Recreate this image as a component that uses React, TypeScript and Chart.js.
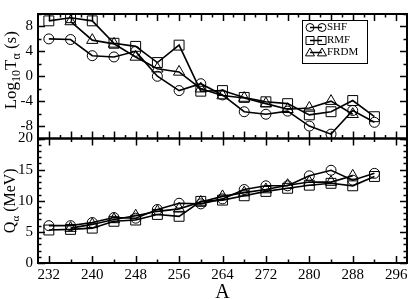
import React, { useEffect, useRef } from "react";
import { Chart, registerables } from "chart.js";

Chart.register(...registerables);

const massNumbers = [232, 236, 240, 244, 248, 252, 256, 260, 264, 268, 272, 276, 280, 284, 288, 292];

const shfLogT = [6.0, 5.9, 3.3, 3.1, 4.0, 0.0, -2.3, -1.2, -3.0, -5.7, -6.1, -5.6, -8.0, -9.3, -5.5, -7.4];
const rmfLogT = [8.9, 9.4, 8.9, 5.3, 4.8, 2.2, 5.0, -2.4, -2.3, -3.4, -4.1, -4.4, -6.2, -5.7, -3.9, -6.5];
const frdmLogT = [null, 8.8, 5.8, 5.2, 3.1, 1.2, 0.7, -2.0, -3.1, -3.5, -4.4, -5.3, -5.1, -4.0, -6.1, null];

const shfQ = [6.0, 6.0, 6.5, 7.3, 7.2, 8.6, 9.6, 9.5, 10.3, 11.8, 12.4, 12.4, 14.0, 14.9, 13.3, 14.4];
const rmfQ = [5.3, 5.4, 5.6, 6.7, 6.9, 7.8, 7.5, 9.9, 10.1, 10.8, 11.5, 12.0, 12.5, 12.8, 12.4, 13.9];
const frdmQ = [null, 5.6, 6.2, 7.0, 7.6, 8.3, 8.7, 9.8, 10.7, 11.3, 11.8, 12.5, 13.0, 13.0, 14.0, null];

const xTickLabels = [232, 240, 248, 256, 264, 272, 280, 288, 296];
const topYTickLabels = [-8, -4, 0, 4, 8];
const bottomYTickLabels = [0, 5, 10, 15, 20];

const seriesNames = ["SHF", "RMF", "FRDM"];
const seriesStyles = ["circle", "rect", "triangle"];

const SERIF = "'Liberation Serif', 'Times New Roman', serif";

function pts(arr: (number | null)[]) {
  return massNumbers
    .map((x, i) => ({ x, y: arr[i] }))
    .filter((p) => p.y !== null);
}

function range(a: number, b: number, s: number) {
  const r: number[] = [];
  for (let v = a; v <= b + 1e-9; v += s) r.push(v);
  return r;
}

function drawRich(ctx: CanvasRenderingContext2D, parts: { t: string; size: number; dy: number }[]) {
  let total = 0;
  const widths = parts.map((p) => {
    ctx.font = `${p.size}px ${SERIF}`;
    const w = ctx.measureText(p.t).width;
    total += w;
    return w;
  });
  let x = -total / 2;
  parts.forEach((p, i) => {
    ctx.font = `${p.size}px ${SERIF}`;
    ctx.fillText(p.t, x, p.dy);
    x += widths[i];
  });
}

function drawMarker(ctx: CanvasRenderingContext2D, style: string, x: number, y: number, r: number) {
  ctx.beginPath();
  if (style === "circle") {
    ctx.arc(x, y, r, 0, Math.PI * 2);
  } else if (style === "rect") {
    ctx.rect(x - r, y - r, 2 * r, 2 * r);
  } else {
    ctx.moveTo(x, y - r);
    ctx.lineTo(x + r, y + r * 0.75);
    ctx.lineTo(x - r, y + r * 0.75);
    ctx.closePath();
  }
  ctx.stroke();
}

const framePlugin = {
  id: "framePlugin",
  afterDraw(chart: any) {
    const ctx: CanvasRenderingContext2D = chart.ctx;
    const xs = chart.scales.x;
    const yT = chart.scales.yT;
    const yQ = chart.scales.yQ;
    const L = chart.chartArea.left;
    const R = chart.chartArea.right;
    ctx.save();
    ctx.strokeStyle = "#000";
    ctx.fillStyle = "#000";

    const panel = (ys: any, xMaj: number[], xMin: number[], yMaj: number[], yMin: number[]) => {
      const top = ys.top;
      const bot = ys.bottom;
      ctx.lineWidth = 1.5;
      ctx.beginPath();
      const tick = (px: number, py: number, dx: number, dy: number) => {
        ctx.moveTo(px, py);
        ctx.lineTo(px + dx, py + dy);
      };
      xMaj.forEach((v) => {
        const p = Math.round(xs.getPixelForValue(v)) + 0.5;
        tick(p, top, 0, 7);
        tick(p, bot, 0, -7);
      });
      xMin.forEach((v) => {
        const p = Math.round(xs.getPixelForValue(v)) + 0.5;
        tick(p, top, 0, 3.5);
        tick(p, bot, 0, -3.5);
      });
      yMaj.forEach((v) => {
        const p = Math.round(ys.getPixelForValue(v)) + 0.5;
        tick(L, p, 7, 0);
        tick(R, p, -7, 0);
      });
      yMin.forEach((v) => {
        const p = Math.round(ys.getPixelForValue(v)) + 0.5;
        tick(L, p, 3.5, 0);
        tick(R, p, -3.5, 0);
      });
      ctx.stroke();
      ctx.lineWidth = 2;
      ctx.strokeRect(L, top, R - L, bot - top);
    };

    panel(
      yT,
      range(232, 296, 4),
      range(234, 294, 4),
      range(-8, 8, 4),
      range(-10, 10, 2).filter((v) => v % 4 !== 0)
    );
    panel(
      yQ,
      range(232, 296, 8),
      range(236, 292, 8),
      range(0, 20, 5),
      range(0, 20, 1).filter((v) => v % 5 !== 0)
    );

    // axis titles
    ctx.textBaseline = "alphabetic";
    ctx.textAlign = "left";
    ctx.save();
    ctx.translate(16, (yT.top + yT.bottom) / 2 - 6);
    ctx.rotate(-Math.PI / 2);
    drawRich(ctx, [
      { t: "Log", size: 17, dy: 0 },
      { t: "10", size: 12, dy: 4 },
      { t: "T", size: 17, dy: 0 },
      { t: "α", size: 12, dy: 4 },
      { t: " (s)", size: 17, dy: 0 },
    ]);
    ctx.restore();

    ctx.save();
    ctx.translate(15, (yQ.top + yQ.bottom) / 2);
    ctx.rotate(-Math.PI / 2);
    drawRich(ctx, [
      { t: "Q", size: 16, dy: 0 },
      { t: "α", size: 11, dy: 4 },
      { t: " (MeV)", size: 16, dy: 0 },
    ]);
    ctx.restore();

    ctx.textAlign = "center";
    ctx.font = `20px ${SERIF}`;
    ctx.fillText("A", (L + R) / 2, 298);

    // legend
    const bx = 302, by = 20, bw = 65, bh = 43;
    ctx.fillStyle = "#fff";
    ctx.fillRect(bx, by, bw, bh);
    ctx.lineWidth = 1;
    ctx.strokeStyle = "#000";
    ctx.strokeRect(bx + 0.5, by + 0.5, bw, bh);
    ctx.fillStyle = "#000";
    const rows = [27, 40, 52];
    seriesNames.forEach((name, i) => {
      const yy = rows[i] + 0.5;
      ctx.lineWidth = 1.5;
      ctx.beginPath();
      ctx.moveTo(310, yy);
      ctx.lineTo(322, yy);
      ctx.stroke();
      ctx.lineWidth = 1;
      const style = seriesStyles[i];
      const r = style === "rect" ? 4 : style === "triangle" ? 4.5 : 4;
      [310, 322].forEach((px) => drawMarker(ctx, style, px, yy, r));
      ctx.textAlign = "left";
      ctx.textBaseline = "middle";
      ctx.font = `11px ${SERIF}`;
      ctx.fillText(name, 327, yy);
    });
    ctx.restore();
  },
};

function makeDataset(label: string, style: string, arr: (number | null)[], axis: string) {
  const r = style === "rect" ? 7 : style === "triangle" ? 6.5 : 5;
  return {
    label,
    data: pts(arr),
    yAxisID: axis,
    borderColor: "#000",
    borderWidth: 1.6,
    pointStyle: style,
    pointRadius: r,
    pointBorderColor: "#000",
    pointBackgroundColor: "rgba(0,0,0,0)",
    pointBorderWidth: 1,
    tension: 0,
    fill: false,
  };
}

export default function App() {
  const ref = useRef<HTMLCanvasElement | null>(null);
  useEffect(() => {
    if (!ref.current) return;
    const tickFont = { family: SERIF, size: 15 };
    const chart = new Chart(ref.current, {
      type: "line",
      data: {
        datasets: [
          makeDataset("SHF", seriesStyles[0], shfLogT, "yT"),
          makeDataset("RMF", seriesStyles[1], rmfLogT, "yT"),
          makeDataset("FRDM", seriesStyles[2], frdmLogT, "yT"),
          makeDataset("SHF Q", seriesStyles[0], shfQ, "yQ"),
          makeDataset("RMF Q", seriesStyles[1], rmfQ, "yQ"),
          makeDataset("FRDM Q", seriesStyles[2], frdmQ, "yQ"),
        ] as any,
      },
      options: {
        responsive: false,
        animation: false,
        layout: { padding: { top: 3, right: 3, left: 0, bottom: 0 } },
        plugins: { legend: { display: false }, tooltip: { enabled: false } },
        scales: {
          x: {
            type: "linear",
            min: 230,
            max: 298,
            afterBuildTicks: (s: any) => {
              s.ticks = xTickLabels.map((v) => ({ value: v }));
            },
            afterFit: (s: any) => {
              s.height = 36;
            },
            ticks: { font: tickFont, color: "#000", padding: 3, autoSkip: false, maxRotation: 0 },
            grid: { display: false, drawTicks: false },
            border: { display: false },
          },
          yQ: {
            type: "linear",
            position: "left",
            stack: "v",
            stackWeight: 1,
            min: 0,
            max: 20,
            afterBuildTicks: (s: any) => {
              s.ticks = bottomYTickLabels.map((v) => ({ value: v }));
            },
            afterFit: (s: any) => {
              s.width = 38;
            },
            ticks: { font: tickFont, color: "#000", padding: 5, autoSkip: false },
            grid: { display: false, drawTicks: false },
            border: { display: false },
          },
          yT: {
            type: "linear",
            position: "left",
            stack: "v",
            stackWeight: 1,
            min: -10,
            max: 10,
            afterBuildTicks: (s: any) => {
              s.ticks = topYTickLabels.map((v) => ({ value: v }));
            },
            afterFit: (s: any) => {
              s.width = 38;
            },
            ticks: { font: tickFont, color: "#000", padding: 5, autoSkip: false },
            grid: { display: false, drawTicks: false },
            border: { display: false },
          },
        } as any,
      },
      plugins: [framePlugin],
    });
    return () => chart.destroy();
  }, []);
  return (
    <div style={{ position: "fixed", left: 0, top: 0, width: 415, height: 299, background: "#fff" }}>
      <canvas ref={ref} width={415} height={299} style={{ display: "block" }} />
    </div>
  );
}
